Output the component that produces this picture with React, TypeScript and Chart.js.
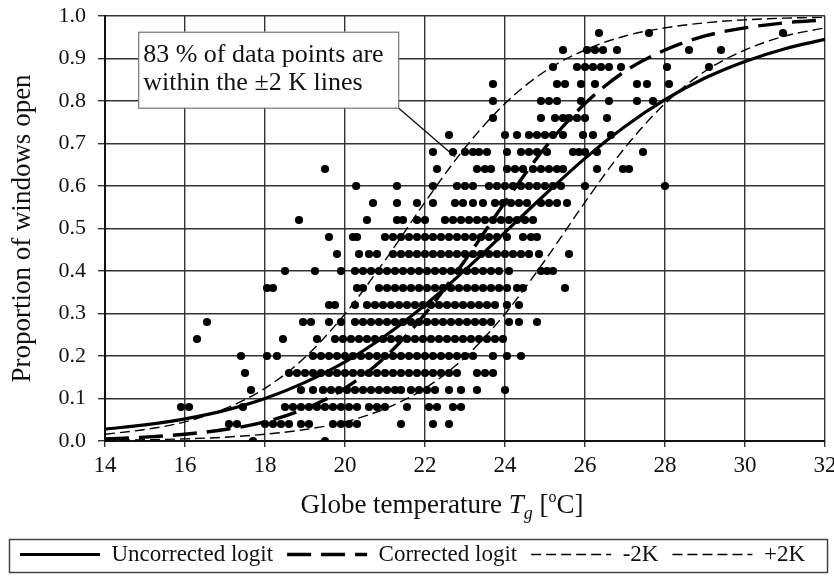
import { useEffect, useRef } from "react";
import { Chart, registerables } from "chart.js";

Chart.register(...registerables);

const SERIF = '"Liberation Serif", "Times New Roman", "DejaVu Serif", serif';

// ---- curves (read at each whole degree) ----
const CURVE_TEMPS = [14, 15, 16, 17, 18, 19, 20, 21, 22, 23, 24, 25, 26, 27, 28, 29, 30, 31, 32];
const UNCORRECTED_LOGIT = [0.028, 0.038, 0.052, 0.072, 0.1, 0.138, 0.186, 0.247, 0.32, 0.402, 0.491, 0.58, 0.665, 0.74, 0.803, 0.854, 0.893, 0.923, 0.945];
const CORRECTED_LOGIT = [0.005, 0.009, 0.016, 0.027, 0.045, 0.076, 0.124, 0.197, 0.299, 0.425, 0.562, 0.69, 0.794, 0.87, 0.92, 0.953, 0.972, 0.984, 0.991];
const MINUS_2K = [0.016, 0.027, 0.045, 0.076, 0.124, 0.197, 0.299, 0.425, 0.562, 0.69, 0.794, 0.87, 0.92, 0.953, 0.972, 0.984, 0.991, 0.995, 0.997];
const PLUS_2K = [0.002, 0.003, 0.005, 0.009, 0.016, 0.027, 0.045, 0.076, 0.124, 0.197, 0.299, 0.425, 0.562, 0.69, 0.794, 0.87, 0.92, 0.953, 0.972];

// ---- observations: proportion level and the temperatures observed at it ----
const OBS_LEVELS = [0.0, 0.04, 0.08, 0.12, 0.16, 0.2, 0.24, 0.28, 0.32, 0.36, 0.4, 0.44, 0.48, 0.52, 0.56, 0.6, 0.64, 0.68, 0.72, 0.76, 0.8, 0.84, 0.88, 0.92, 0.96];
const OBS_TEMPS = [
  [17.7, 19.5],
  [17.1, 17.3, 18.0, 18.2, 18.4, 18.6, 18.9, 19.1, 19.7, 19.9, 20.1, 20.3, 21.4, 22.2, 22.6],
  [15.9, 16.1, 17.45, 18.5, 18.7, 18.9, 19.1, 19.3, 19.5, 19.7, 19.9, 20.1, 20.3, 20.6, 20.8, 21.0, 21.55, 22.1, 22.3, 22.7, 22.9],
  [17.65, 18.9, 19.2, 19.45, 19.65, 19.85, 20.05, 20.25, 20.45, 20.65, 20.85, 21.05, 21.25, 21.4, 21.65, 21.85, 22.05, 22.25, 22.6, 22.9, 23.3, 24.0],
  [17.5, 18.6, 18.8, 19.0, 19.2, 19.4, 19.6, 19.8, 20.0, 20.2, 20.4, 20.6, 20.8, 21.0, 21.2, 21.4, 21.6, 21.8, 22.0, 22.2, 22.4, 22.6, 22.8, 23.3, 23.5, 23.7],
  [17.4, 18.05, 18.3, 19.2, 19.4, 19.6, 19.8, 20.0, 20.2, 20.4, 20.6, 20.8, 21.0, 21.2, 21.4, 21.6, 21.8, 22.0, 22.2, 22.4, 22.6, 22.8, 23.0, 23.2, 23.7, 24.05, 24.4],
  [16.3, 18.45, 19.3, 19.75, 19.95, 20.15, 20.35, 20.55, 20.75, 20.95, 21.15, 21.35, 21.55, 21.75, 21.95, 22.15, 22.35, 22.55, 22.75, 22.95, 23.15, 23.35, 23.55, 23.75, 23.95],
  [16.55, 18.95, 19.15, 19.6, 19.9, 20.25, 20.45, 20.65, 20.85, 21.05, 21.25, 21.45, 21.65, 21.85, 22.05, 22.25, 22.45, 22.65, 22.85, 23.05, 23.25, 23.45, 23.65, 24.1, 24.35, 24.8],
  [19.6, 19.75, 20.25, 20.55, 20.75, 20.95, 21.15, 21.35, 21.55, 21.75, 21.95, 22.15, 22.35, 22.55, 22.75, 22.95, 23.15, 23.35, 23.55, 23.75, 24.05, 24.35],
  [18.05, 18.2, 20.3, 20.45, 20.85, 21.05, 21.25, 21.45, 21.65, 21.85, 22.05, 22.25, 22.45, 22.65, 22.85, 23.05, 23.25, 23.45, 23.65, 23.85, 24.05, 24.3, 24.45, 25.5],
  [18.5, 19.25, 19.9, 20.25, 20.45, 20.65, 20.85, 21.05, 21.25, 21.45, 21.65, 21.85, 22.05, 22.25, 22.45, 22.65, 22.85, 23.05, 23.25, 23.45, 23.65, 23.85, 24.1, 24.9, 25.05, 25.2],
  [19.8, 20.35, 20.6, 20.8, 21.2, 21.4, 21.6, 21.8, 22.0, 22.2, 22.4, 22.6, 22.8, 23.0, 23.2, 23.4, 23.6, 23.8, 24.0, 24.2, 24.4, 24.6, 24.85, 25.6],
  [19.6, 20.2, 20.3, 21.0, 21.2, 21.4, 21.6, 21.8, 22.0, 22.2, 22.4, 22.6, 22.8, 23.0, 23.2, 23.4, 23.6, 23.8, 24.05, 24.45, 24.65, 24.8],
  [18.85, 20.55, 21.3, 21.45, 21.8, 22.0, 22.5, 22.7, 22.9, 23.1, 23.3, 23.5, 23.7, 23.9, 24.1, 24.3, 24.5, 24.7],
  [20.7, 21.3, 21.8, 22.2, 22.75, 22.95, 23.2, 23.45, 23.75, 23.95, 24.15, 24.35, 24.55, 24.9, 25.1, 25.3, 25.55],
  [20.28, 21.3, 22.2, 22.8, 23.0, 23.2, 23.6, 23.8, 24.0, 24.2, 24.4, 24.6, 24.8, 25.0, 25.2, 25.4, 26.0, 28.0],
  [19.5, 22.3, 23.3, 23.5, 23.65, 24.05, 24.25, 24.45, 24.7, 24.9, 25.1, 25.3, 25.45, 26.3, 26.95, 27.1],
  [22.2, 22.7, 23.0, 23.2, 23.35, 23.55, 24.05, 24.4, 24.6, 24.8, 25.05, 25.7, 25.85, 26.0, 26.3, 27.45],
  [22.6, 24.0, 24.3, 24.6, 24.8, 25.0, 25.2, 25.45, 25.95, 26.2, 26.65],
  [23.7, 24.9, 25.25, 25.45, 25.6, 25.8, 26.0, 26.55],
  [23.7, 24.9, 25.1, 25.3, 25.9, 26.6, 27.3, 27.7],
  [23.7, 25.3, 25.5, 25.9, 26.25, 27.3, 27.55, 28.1],
  [25.2, 25.8, 26.0, 26.2, 26.4, 26.6, 26.9, 28.05, 29.1],
  [25.45, 26.05, 26.25, 26.45, 26.8, 28.6, 29.4],
  [26.35, 27.6, 30.95],
];

const X_TICKS = [14, 16, 18, 20, 22, 24, 26, 28, 30, 32];
const Y_TICKS = [0, 0.1, 0.2, 0.3, 0.4, 0.5, 0.6, 0.7, 0.8, 0.9, 1.0];

const SERIES_LABELS = ["Uncorrected logit", "Corrected logit", "-2K", "+2K"];
const Y_TITLE = "Proportion of windows open";
const X_TITLE_PARTS = ["Globe temperature ", "T", "g", " [", "o", "C]"];
const NOTE_LINES = ["83 % of data points are", "within the \u00b12 K lines"];
const NOTE_ANCHOR = { x: 14.83, y: 0.963 };
const NOTE_TARGET = { x: 22.75, y: 0.669 };

const curve = (vals: number[]) => CURVE_TEMPS.map((t, i) => ({ x: t, y: vals[i] }));

const observations = OBS_LEVELS.flatMap((lvl, i) => OBS_TEMPS[i].map((t) => ({ x: t, y: lvl })));

const decorPlugin = {
  id: "decor",
  afterDraw(chart: any) {
    const ctx = chart.ctx as CanvasRenderingContext2D;
    const xs = chart.scales.x;
    const ys = chart.scales.y;
    const area = chart.chartArea;

    // annotation box
    ctx.save();
    const bx = xs.getPixelForValue(NOTE_ANCHOR.x);
    const by = ys.getPixelForValue(NOTE_ANCHOR.y);
    const bw = 260;
    const bh = 76;
    const tx = xs.getPixelForValue(NOTE_TARGET.x);
    const ty = ys.getPixelForValue(NOTE_TARGET.y);
    ctx.strokeStyle = "#111";
    ctx.lineWidth = 1.4;
    ctx.beginPath();
    ctx.moveTo(bx + bw, by + bh);
    ctx.lineTo(tx, ty);
    ctx.stroke();
    ctx.fillStyle = "#fff";
    ctx.fillRect(bx, by, bw, bh);
    ctx.strokeStyle = "#777";
    ctx.lineWidth = 1.2;
    ctx.strokeRect(bx + 0.5, by + 0.5, bw, bh);
    ctx.fillStyle = "#111";
    ctx.font = `26px ${SERIF}`;
    ctx.textBaseline = "alphabetic";
    ctx.textAlign = "left";
    ctx.fillText(NOTE_LINES[0], bx + 5, by + 30);
    ctx.fillText(NOTE_LINES[1], bx + 5, by + 58);
    ctx.restore();

    // x axis title with italic T, subscript g and superscript o
    ctx.save();
    ctx.fillStyle = "#111";
    ctx.textBaseline = "alphabetic";
    ctx.textAlign = "left";
    const big = `27px ${SERIF}`;
    const bigIt = `italic 27px ${SERIF}`;
    const smallIt = `italic 18px ${SERIF}`;
    const small = `16px ${SERIF}`;
    const pieces = [
      { t: X_TITLE_PARTS[0], f: big, dy: 0 },
      { t: X_TITLE_PARTS[1], f: bigIt, dy: 0 },
      { t: X_TITLE_PARTS[2], f: smallIt, dy: 6 },
      { t: X_TITLE_PARTS[3], f: big, dy: 0 },
      { t: X_TITLE_PARTS[4], f: small, dy: -11 },
      { t: X_TITLE_PARTS[5], f: big, dy: 0 },
    ];
    let total = 0;
    for (const p of pieces) {
      ctx.font = p.f;
      total += ctx.measureText(p.t).width;
    }
    const cx = area.left + (area.right - area.left) * 0.468;
    let x = cx - total / 2;
    const base = area.bottom + 72;
    for (const p of pieces) {
      ctx.font = p.f;
      ctx.fillText(p.t, x, base + p.dy);
      x += ctx.measureText(p.t).width;
    }
    ctx.restore();

    // legend frame
    const lg = chart.legend;
    if (lg) {
      ctx.save();
      ctx.strokeStyle = "#444";
      ctx.lineWidth = 1.5;
      const top = lg.top + 10;
      ctx.strokeRect(9.5, top + 0.5, chart.width - 16, 33);
      ctx.restore();
    }
  },
};

export default function App() {
  const ref = useRef<HTMLCanvasElement | null>(null);

  useEffect(() => {
    if (!ref.current) return;
    const lineStyle = (label: string, vals: number[], width: number, dash: number[]) => ({
      type: "scatter" as const,
      label,
      data: curve(vals),
      showLine: true,
      borderColor: "#000",
      backgroundColor: "#000",
      borderWidth: width,
      borderDash: dash,
      pointRadius: 0,
      pointHoverRadius: 0,
      cubicInterpolationMode: "monotone" as const,
      order: 0,
    });

    const chart = new Chart(ref.current, {
      type: "scatter",
      data: {
        datasets: [
          lineStyle(SERIES_LABELS[0], UNCORRECTED_LOGIT, 3.2, []),
          lineStyle(SERIES_LABELS[1], CORRECTED_LOGIT, 3.4, [24, 10]),
          lineStyle(SERIES_LABELS[2], MINUS_2K, 1.4, [10, 5]),
          lineStyle(SERIES_LABELS[3], PLUS_2K, 1.4, [10, 5]),
          {
            type: "scatter" as const,
            label: "Observations",
            data: observations,
            pointRadius: 4.1,
            pointHoverRadius: 4.1,
            pointStyle: "circle",
            backgroundColor: "#000",
            borderWidth: 0,
            order: 1,
          },
        ],
      },
      options: {
        responsive: false,
        animation: false,
        events: [],
        layout: { padding: { top: 16, right: 9, left: 0, bottom: 0 } },
        plugins: {
          tooltip: { enabled: false },
          title: { display: false },
          legend: {
            display: true,
            position: "bottom",
            labels: {
              color: "#111",
              font: { family: SERIF, size: 23 },
              usePointStyle: true,
              pointStyle: "line",
              pointStyleWidth: 80,
              padding: 14,
              filter: (item: any) => item.text !== "Observations",
              generateLabels: (chart: any) => {
                const items = Chart.defaults.plugins.legend.labels.generateLabels(chart);
                return items.map((it: any) => {
                  const ds: any = chart.data.datasets[it.datasetIndex];
                  return {
                    ...it,
                    pointStyle: "line",
                    lineDash: ds.borderDash || [],
                    lineWidth: ds.borderWidth,
                    strokeStyle: "#000",
                    fillStyle: "#000",
                  };
                });
              },
            },
          },
        },
        scales: {
          x: {
            type: "linear",
            min: 14,
            max: 32,
            afterBuildTicks: (s: any) => {
              s.ticks = X_TICKS.map((v) => ({ value: v }));
            },
            afterFit: (s: any) => {
              s.height = 88;
              s.paddingRight = 9;
              s.paddingLeft = 0;
            },
            ticks: {
              color: "#111",
              font: { family: SERIF, size: 23 },
              padding: 5,
              maxRotation: 0,
              autoSkip: false,
            },
            grid: { color: "#333", lineWidth: 1.4, tickLength: 6, tickColor: "#333" },
            border: { color: "#111", width: 2 },
            title: { display: false },
          },
          y: {
            type: "linear",
            min: 0,
            max: 1,
            afterBuildTicks: (s: any) => {
              s.ticks = Y_TICKS.map((v) => ({ value: v }));
            },
            afterFit: (s: any) => {
              s.width = 105;
              s.paddingTop = 0;
              s.paddingBottom = 0;
            },
            ticks: {
              color: "#111",
              font: { family: SERIF, size: 22 },
              padding: 12,
              autoSkip: false,
              callback: (v: any) => Number(v).toFixed(1),
            },
            grid: { color: "#333", lineWidth: 1.4, tickLength: 7, tickColor: "#333" },
            border: { color: "#111", width: 2 },
            title: {
              display: true,
              text: Y_TITLE,
              color: "#111",
              font: { family: SERIF, size: 27 },
              padding: { top: 7, bottom: 0 },
            },
          },
        },
      },
      plugins: [decorPlugin],
    });
    return () => chart.destroy();
  }, []);

  return (
    <div style={{ position: "fixed", left: 0, top: 0, width: 834, height: 576, background: "#fff" }}>
      <canvas ref={ref} width={834} height={576} />
    </div>
  );
}
